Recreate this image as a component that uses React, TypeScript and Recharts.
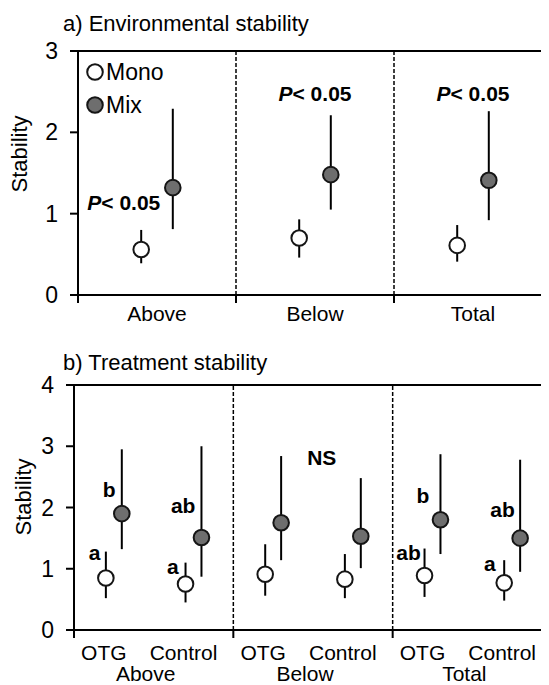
import React from 'react';
import { ComposedChart, Scatter, ErrorBar, XAxis, YAxis, ReferenceLine, ReferenceDot, Legend } from 'recharts';

const FONT = '"Liberation Sans", Arial, Helvetica, sans-serif';
const MONO_FILL = '#ffffff';
const MIX_FILL = '#6e6e6e';
const EDGE = '#151515';

// a) Environmental stability
const groupsA = ['Above', 'Below', 'Total'];
const monoA = [0.56, 0.7, 0.61];
const monoALo = [0.39, 0.46, 0.41];
const monoAHi = [0.8, 0.93, 0.86];
const mixA = [1.32, 1.48, 1.41];
const mixALo = [0.81, 1.05, 0.92];
const mixAHi = [2.29, 2.21, 2.26];
const ticksYA = [0, 1, 2, 3];
const notesA = [
  { x: 0.29, y: 1.14, text: 'P' },
  { x: 1.5, y: 2.48, text: 'P' },
  { x: 2.5, y: 2.48, text: 'P' },
];

// b) Treatment stability (OTG, Control) x (Above, Below, Total)
const treatments = ['OTG', 'Control'];
const groupsB = ['Above', 'Below', 'Total'];
const monoB = [0.85, 0.75, 0.91, 0.83, 0.89, 0.77];
const monoBLo = [0.52, 0.45, 0.56, 0.52, 0.54, 0.48];
const monoBHi = [1.28, 1.1, 1.4, 1.24, 1.33, 1.14];
const mixB = [1.9, 1.51, 1.75, 1.53, 1.8, 1.5];
const mixBLo = [1.32, 0.87, 1.14, 1.01, 1.24, 0.95];
const mixBHi = [2.95, 3.0, 2.84, 2.48, 2.87, 2.78];
const ticksYB = [0, 1, 2, 3, 4];
const notesB = [
  { x: 0.26, y: 1.26, text: 'a' },
  { x: 0.44, y: 2.29, text: 'b' },
  { x: 1.24, y: 1.03, text: 'a' },
  { x: 1.37, y: 2.03, text: 'ab' },
  { x: 3.11, y: 2.82, text: 'NS' },
  { x: 4.2, y: 1.26, text: 'ab' },
  { x: 4.38, y: 2.2, text: 'b' },
  { x: 5.22, y: 1.08, text: 'a' },
  { x: 5.38, y: 1.96, text: 'ab' },
];

const seriesNames = ['Mono', 'Mix'];

const toPoints = (vals: number[], lo: number[], hi: number[], shift: number) =>
  vals.map((v, i) => ({ x: i + 0.5 + shift, y: v, err: [v - lo[i], hi[i] - v] }));

const dataMonoA = toPoints(monoA, monoALo, monoAHi, -0.1);
const dataMixA = toPoints(mixA, mixALo, mixAHi, 0.1);
const dataMonoB = toPoints(monoB, monoBLo, monoBHi, -0.1);
const dataMixB = toPoints(mixB, mixBLo, mixBHi, 0.1);

const dot = (fill: string) => (p: any) => (
  <circle cx={p.cx} cy={p.cy} r={7.8} fill={fill} stroke={EDGE} strokeWidth={2} />
);

const NoteLabel = ({ viewBox, text }: any) => {
  const x = viewBox.x + (viewBox.width || 0) / 2;
  const y = viewBox.y + (viewBox.height || 0) / 2;
  return (
    <text x={x} y={y} textAnchor="middle" dominantBaseline="central" fontFamily={FONT} fontSize={21} fontWeight="bold" fill="#000">
      {text === 'P' ? (
        <>
          <tspan fontStyle="italic">P</tspan>
          <tspan>{'< 0.05'}</tspan>
        </>
      ) : (
        text
      )}
    </text>
  );
};

const TickA = ({ x, y, payload }: any) => {
  const v = payload.value;
  if (Number.isInteger(v)) return <line x1={x} x2={x} y1={y} y2={y + 8} stroke="#000" strokeWidth={2} />;
  return (
    <text x={x} y={y + 26} textAnchor="middle" fontFamily={FONT} fontSize={21} fill="#000">
      {groupsA[Math.floor(v)]}
    </text>
  );
};

const TickB = ({ x, y, payload }: any) => {
  const v = payload.value;
  if (Number.isInteger(v) && v % 2 === 0) return <line x1={x} x2={x} y1={y} y2={y + 8} stroke="#000" strokeWidth={2} />;
  if (Number.isInteger(v)) {
    return (
      <text x={x - 8} y={y + 51} textAnchor="middle" fontFamily={FONT} fontSize={21} fill="#000">
        {groupsB[(v - 1) / 2]}
      </text>
    );
  }
  return (
    <text x={x - 10} y={y + 30} textAnchor="middle" fontFamily={FONT} fontSize={21} fill="#000">
      {treatments[Math.floor(v) % 2]}
    </text>
  );
};

const LegendBox = ({ payload }: any) => {
  const items = [...(payload || [])].sort((a: any, b: any) => seriesNames.indexOf(a.value) - seriesNames.indexOf(b.value));
  return (
    <div>
      {items.map((e: any) => (
        <div key={e.value} style={{ display: 'flex', alignItems: 'center', height: 33 }}>
          <svg width={18} height={18}>
            <circle cx={9} cy={9} r={7.8} fill={e.value === 'Mix' ? MIX_FILL : MONO_FILL} stroke={EDGE} strokeWidth={2} />
          </svg>
          <span style={{ marginLeft: 2, fontSize: 23, fontFamily: FONT, color: '#000', lineHeight: '26px' }}>{e.value}</span>
        </div>
      ))}
    </div>
  );
};

const yTick = { fontSize: 23, fill: '#000', fontFamily: FONT };
const axisStroke = { stroke: '#000', strokeWidth: 2 };

export default function App() {
  return (
    <div style={{ width: 541, height: 677, overflow: 'hidden', position: 'relative', fontFamily: FONT }}>
      <ComposedChart width={560} height={327} margin={{ top: 43, right: 16, bottom: 10, left: 30 }}>
        <text x={55} y={23} fontFamily={FONT} fontSize={22} fill="#000">a) Environmental stability</text>
        <text x={11} y={146} transform="rotate(-90 11 146)" textAnchor="middle" dominantBaseline="central" fontFamily={FONT} fontSize={22} fill="#000">
          Stability
        </text>
        <XAxis
          type="number"
          dataKey="x"
          domain={[0, 3]}
          ticks={[0, 0.5, 1, 1.5, 2, 2.5, 3]}
          interval={0}
          tickLine={false}
          tickSize={0}
          tickMargin={0}
          axisLine={axisStroke}
          tick={<TickA />}
          height={30}
          allowDataOverflow
        />
        <YAxis
          type="number"
          dataKey="y"
          domain={[0, 3]}
          ticks={ticksYA}
          interval={0}
          width={40}
          tickSize={8}
          tickMargin={12}
          tick={yTick}
          tickLine={axisStroke}
          axisLine={axisStroke}
          allowDataOverflow
        />
        <ReferenceLine y={3} stroke="#000" strokeWidth={2} />
        <ReferenceLine x={1} stroke="#000" strokeWidth={1.5} strokeDasharray="4 2" />
        <ReferenceLine x={2} stroke="#000" strokeWidth={1.5} strokeDasharray="4 2" />
        <Legend
          layout="vertical"
          align="center"
          verticalAlign="middle"
          content={<LegendBox />}
          wrapperStyle={{ left: 78, top: 47, width: 110 }}
        />
        <Scatter name="Mono" data={dataMonoA} fill={MONO_FILL} shape={dot(MONO_FILL)} isAnimationActive={false}>
          <ErrorBar dataKey="err" direction="y" width={0} stroke="#000" strokeWidth={2} isAnimationActive={false} />
        </Scatter>
        <Scatter name="Mix" data={dataMixA} fill={MIX_FILL} shape={dot(MIX_FILL)} isAnimationActive={false}>
          <ErrorBar dataKey="err" direction="y" width={0} stroke="#000" strokeWidth={2} isAnimationActive={false} />
        </Scatter>
        {notesA.map((n, i) => (
          <ReferenceDot key={i} x={n.x} y={n.y} r={1} fill="none" stroke="none" label={<NoteLabel text={n.text} />} />
        ))}
      </ComposedChart>

      <ComposedChart width={560} height={350} margin={{ top: 50, right: 16, bottom: 25, left: 26 }}>
        <text x={55} y={34.5} fontFamily={FONT} fontSize={22} fill="#000">b) Treatment stability</text>
        <text x={15} y={162} transform="rotate(-90 15 162)" textAnchor="middle" dominantBaseline="central" fontFamily={FONT} fontSize={22} fill="#000">
          Stability
        </text>
        <XAxis
          type="number"
          dataKey="x"
          domain={[0, 6]}
          ticks={[0, 0.5, 1, 1.5, 2, 2.5, 3, 3.5, 4, 4.5, 5, 5.5, 6]}
          interval={0}
          tickLine={false}
          tickSize={0}
          tickMargin={0}
          axisLine={axisStroke}
          tick={<TickB />}
          height={30}
          allowDataOverflow
        />
        <YAxis
          type="number"
          dataKey="y"
          domain={[0, 4]}
          ticks={ticksYB}
          interval={0}
          width={40}
          tickSize={8}
          tickMargin={12}
          tick={yTick}
          tickLine={axisStroke}
          axisLine={axisStroke}
          allowDataOverflow
        />
        <ReferenceLine y={4} stroke="#000" strokeWidth={2} />
        <ReferenceLine x={2} stroke="#000" strokeWidth={1.5} strokeDasharray="4 2" />
        <ReferenceLine x={4} stroke="#000" strokeWidth={1.5} strokeDasharray="4 2" />
        <Scatter name="Mono" data={dataMonoB} fill={MONO_FILL} shape={dot(MONO_FILL)} isAnimationActive={false}>
          <ErrorBar dataKey="err" direction="y" width={0} stroke="#000" strokeWidth={2} isAnimationActive={false} />
        </Scatter>
        <Scatter name="Mix" data={dataMixB} fill={MIX_FILL} shape={dot(MIX_FILL)} isAnimationActive={false}>
          <ErrorBar dataKey="err" direction="y" width={0} stroke="#000" strokeWidth={2} isAnimationActive={false} />
        </Scatter>
        {notesB.map((n, i) => (
          <ReferenceDot key={i} x={n.x} y={n.y} r={1} fill="none" stroke="none" label={<NoteLabel text={n.text} />} />
        ))}
      </ComposedChart>
    </div>
  );
}
